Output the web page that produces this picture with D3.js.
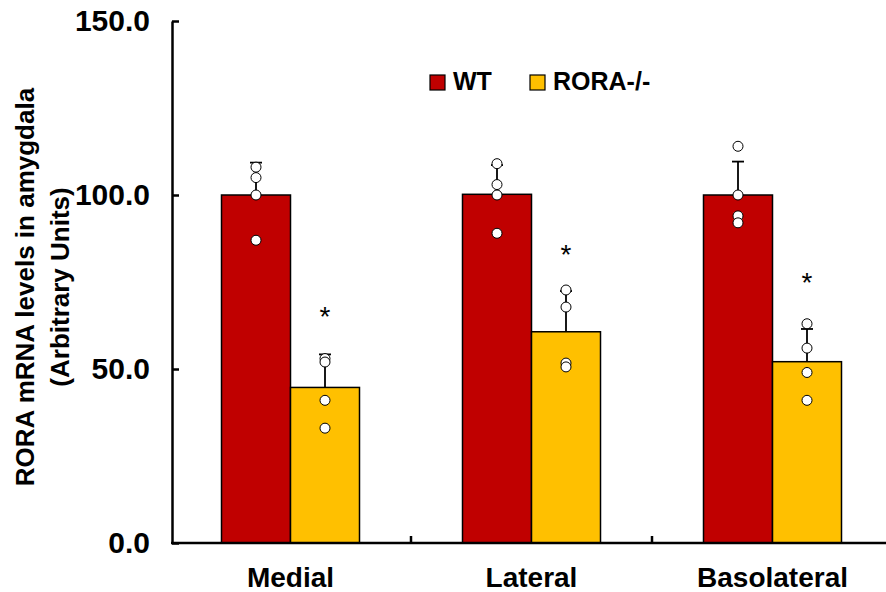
<!DOCTYPE html>
<html>
<head>
<meta charset="utf-8">
<script src="https://cdn.jsdelivr.net/npm/d3@7"></script>
<style>
  body { margin: 0; background: #fff; }
  svg text { font-family: "Liberation Sans", Arial, sans-serif; font-weight: bold; fill: #000; }
</style>
</head>
<body>
<figure id="chart" style="margin:0"></figure>
<script>
const regions = ["Medial", "Lateral", "Basolateral"];
const groups = ["WT", "RORA-/-"];
const colors = ["#C00000", "#FFC000"];

// bar heights (means) and upper error (SD) per region
const wtMeans = [100.0, 100.2, 100.0];
const wtErrors = [9.3, 8.4, 9.6];
const roraMeans = [44.7, 60.7, 52.1];
const roraErrors = [9.5, 11.7, 9.4];

// individual animals
const wtPoints = [[108, 105, 100, 87], [109, 103, 100, 89], [114, 100, 94, 92]];
const roraPoints = [[53, 52, 41, 33], [72.7, 67.8, 51.7, 50.6], [63, 56, 49, 41]];

// asterisk height, data units
const starLevels = [66, 84, 76];
const yTicks = [0, 50, 100, 150];

const width = 886, height = 592;

const svg = d3.select("#chart")
  .append("svg")
  .attr("width", width)
  .attr("height", height);

const x = d3.scaleBand().domain(regions).range([170, 893]);
const x1 = d3.scaleBand().domain(groups).range([51.5, x.bandwidth() - 51.5]);
const y = d3.scaleLinear().domain([0, 150]).range([543, 21]);

const rows = [];
regions.forEach((r, i) => {
  rows.push({region: r, group: groups[0], mean: wtMeans[i], err: wtErrors[i], pts: wtPoints[i], color: colors[0]});
  rows.push({region: r, group: groups[1], mean: roraMeans[i], err: roraErrors[i], pts: roraPoints[i], color: colors[1], star: starLevels[i]});
});
const cx = d => x(d.region) + x1(d.group) + x1.bandwidth() / 2;

// bars
svg.selectAll("rect.bar")
  .data(rows)
  .enter()
  .append("rect")
  .attr("class", "bar")
  .attr("x", d => x(d.region) + x1(d.group))
  .attr("y", d => y(d.mean))
  .attr("width", x1.bandwidth())
  .attr("height", d => y(0) - y(d.mean))
  .attr("fill", d => d.color)
  .attr("stroke", "#000")
  .attr("stroke-width", 1.5);

// error bars (upper only)
const eb = svg.selectAll("g.err").data(rows).enter().append("g").attr("class", "err");
eb.append("line")
  .attr("x1", cx).attr("x2", cx)
  .attr("y1", d => y(d.mean)).attr("y2", d => y(d.mean + d.err))
  .attr("stroke", "#000").attr("stroke-width", 1.8);
eb.append("line")
  .attr("x1", d => cx(d) - 6).attr("x2", d => cx(d) + 6)
  .attr("y1", d => y(d.mean + d.err)).attr("y2", d => y(d.mean + d.err))
  .attr("stroke", "#000").attr("stroke-width", 1.8);

// dots
rows.forEach(d => {
  svg.selectAll(null)
    .data(d.pts)
    .enter()
    .append("circle")
    .attr("cx", cx(d))
    .attr("cy", v => y(v))
    .attr("r", 5)
    .attr("fill", "#fff")
    .attr("stroke", "#000")
    .attr("stroke-width", 1);
});

// asterisks
svg.selectAll("text.star")
  .data(rows.filter(d => d.star !== undefined))
  .enter()
  .append("text")
  .attr("class", "star")
  .attr("x", cx)
  .attr("y", d => y(d.star) + 13)
  .attr("text-anchor", "middle")
  .style("font-weight", "normal")
  .style("font-size", "28px")
  .text("*");

// y axis
svg.append("g")
  .attr("transform", "translate(172,0)")
  .call(d3.axisLeft(y).tickValues(yTicks).tickFormat(d3.format(".1f"))
    .tickSizeInner(-7).tickSizeOuter(0).tickPadding(22))
  .call(g => g.selectAll("path, line").attr("stroke", "#000").attr("stroke-width", 2.5))
  .call(g => g.selectAll("text").style("font-size", "30px").style("font-family", "Liberation Sans, Arial").style("font-weight", "bold"));

// x axis
svg.append("line")
  .attr("x1", 171).attr("x2", width)
  .attr("y1", y(0)).attr("y2", y(0))
  .attr("stroke", "#000").attr("stroke-width", 2.5);
svg.selectAll("line.xtick")
  .data(regions.slice(1))
  .enter()
  .append("line")
  .attr("x1", d => x(d)).attr("x2", d => x(d))
  .attr("y1", y(0)).attr("y2", y(0) - 7)
  .attr("stroke", "#000").attr("stroke-width", 2.5);
svg.selectAll("text.cat")
  .data(regions)
  .enter()
  .append("text")
  .attr("x", d => x(d) + x.bandwidth() / 2)
  .attr("y", 587)
  .attr("text-anchor", "middle")
  .style("font-size", "28px")
  .text(d => d);

// y title
const title = svg.append("text")
  .attr("transform", "translate(0,287) rotate(-90)")
  .attr("text-anchor", "middle")
  .style("font-size", "26px");
title.append("tspan").attr("x", 0).attr("y", 34).text("RORA mRNA levels in amygdala");
title.append("tspan").attr("x", 0).attr("y", 69).text("(Arbitrary Units)");

// legend
const legend = svg.selectAll("g.leg")
  .data(groups)
  .enter()
  .append("g")
  .attr("transform", (d, i) => `translate(${430 + i * 100},75)`);
legend.append("rect")
  .attr("width", 15).attr("height", 15)
  .attr("fill", (d, i) => colors[i])
  .attr("stroke", "#000").attr("stroke-width", 1.2);
legend.append("text")
  .attr("x", 23).attr("y", 15)
  .style("font-size", "25px")
  .text(d => d);
</script>
</body>
</html>
